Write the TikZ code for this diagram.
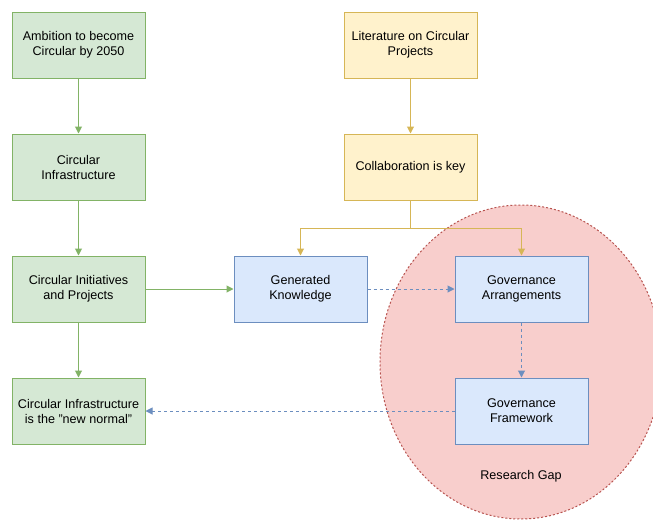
\documentclass[tikz,border=0pt]{standalone}
\usepackage{fontspec}
\setmainfont{Liberation Sans}
\usetikzlibrary{arrows.meta}
\definecolor{greenfill}{HTML}{D5E8D4}
\definecolor{greenline}{HTML}{82B366}
\definecolor{yellowfill}{HTML}{FFF2CC}
\definecolor{yellowline}{HTML}{D6B656}
\definecolor{bluefill}{HTML}{DAE8FC}
\definecolor{blueline}{HTML}{6C8EBF}
\definecolor{redfill}{HTML}{F8CECC}
\definecolor{redline}{HTML}{B85450}
\tikzset{
	box/.style={draw, line width=1pt, minimum width=133pt, minimum height=66pt, align=center, font=\fontsize{12.6}{15}\selectfont, inner sep=2pt},
	greenbox/.style={box, fill=greenfill, draw=greenline},
	yellowbox/.style={box, fill=yellowfill, draw=yellowline},
	bluebox/.style={box, fill=bluefill, draw=blueline},
	arr/.style={line width=1pt, -{Triangle[length=7pt, width=7pt]}},
	dasharr/.style={arr, draw=blueline, dash pattern=on 3pt off 3pt},
}

\begin{document}
\begin{tikzpicture}[x=1pt, y=-1pt]
		%%%%% START %%%%%
		\useasboundingbox (0, 0) rectangle (653, 520);
		
		% research gap
		\draw[fill=redfill, draw=redline, line width=1pt, dash pattern=on 2pt off 2pt] (521, 362) ellipse (141 and 157);
		\node[font=\fontsize{12.6}{15}\selectfont] (gaplabel) at (521, 476) {Research Gap};
		
		% left column
		\node[greenbox] (ambition) at (78.5, 45) {Ambition to become\\Circular by 2050};
		\node[greenbox] (infra) at (78.5, 167) {Circular\\Infrastructure};
		\node[greenbox] (initiatives) at (78.5, 289) {Circular Initiatives\\and Projects};
		\node[greenbox] (normal) at (78.5, 411) {Circular Infrastructure\\is the \symbol{34}new normal\symbol{34}};
		
		% right column
		\node[yellowbox] (literature) at (410.5, 45) {Literature on Circular\\Projects};
		\node[yellowbox] (collab) at (410.5, 167) {Collaboration is key};
		
		\node[bluebox] (knowledge) at (300.5, 289) {Generated\\Knowledge};
		\node[bluebox] (arrangements) at (521.5, 289) {Governance\\Arrangements};
		\node[bluebox] (framework) at (521.5, 411) {Governance\\Framework};
		
		% arrows
		\draw[arr, greenline] (ambition) -- (infra);
		\draw[arr, greenline] (infra) -- (initiatives);
		\draw[arr, greenline] (initiatives) -- (normal);
		\draw[arr, greenline] (initiatives) -- (knowledge);
		
		\draw[arr, yellowline] (literature) -- (collab);
		\draw[arr, yellowline] (collab.south) |- (300.5, 228) -- (knowledge.north);
		\draw[arr, yellowline] (collab.south) |- (521.5, 228) -- (arrangements.north);
		
		\draw[dasharr] (knowledge) -- (arrangements);
		\draw[dasharr] (arrangements) -- (framework);
		\draw[dasharr] (framework) -- (normal);
		
		%%%%% END %%%%%
	\end{tikzpicture}
\end{document}
